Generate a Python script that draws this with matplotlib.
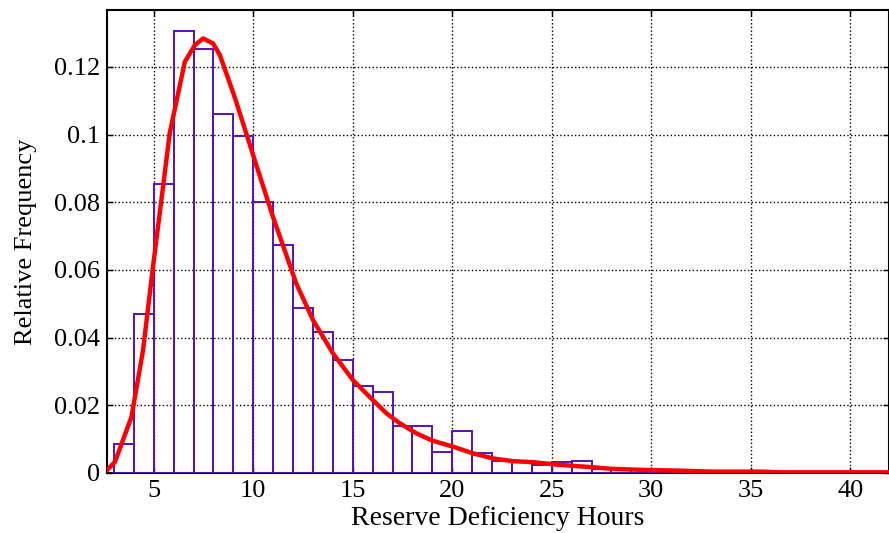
import matplotlib
matplotlib.use("Agg")
import matplotlib.pyplot as plt
import numpy as np

# histogram: relative frequency per 1-hour bin, left edges 3..41
bin_left = list(range(3, 42))
rel_freq = [0.0085, 0.047, 0.0855, 0.1306, 0.1253, 0.106, 0.0996, 0.080,
            0.0674, 0.0488, 0.0417, 0.0334, 0.0257, 0.0238, 0.014, 0.014,
            0.0063, 0.0125, 0.006, 0.0036, 0.0035, 0.0023, 0.0032, 0.0036,
            0.0013, 0.001, 0.001, 0.0005, 0.0005, 0.0003, 0.0002, 0.0002,
            0.0002, 0.0001, 0.0001, 0.0001, 0.0001, 0.0001, 0.0001]

# fitted density curve
fit_x = [2.66, 3.05, 3.88, 4.46, 4.96, 5.38, 5.8, 6.56, 7.06, 7.48, 7.98,
         8.32, 9.07, 10.07, 10.99, 12.16, 13.0, 14.0, 15.0, 16.0, 16.7,
         17.36, 18.2, 19.03, 20.03, 21.04, 22.04, 23.05, 24.05, 25.05,
         26.06, 27.06, 28.07, 29.7, 31.38, 33.05, 35.6, 36.4, 42.0]
fit_y = [0.0009, 0.0033, 0.0166, 0.0363, 0.061, 0.0806, 0.1004, 0.1215,
         0.1264, 0.1284, 0.1269, 0.1235, 0.111, 0.0925, 0.0757, 0.056,
         0.0452, 0.0354, 0.0275, 0.0216, 0.0176, 0.0147, 0.0117, 0.0095,
         0.0078, 0.0058, 0.0043, 0.0035, 0.0032, 0.0026, 0.0021, 0.0017,
         0.0012, 0.0009, 0.0007, 0.0004, 0.0004, 0.0002, 0.0002]

plt.rcParams["font.family"] = ["Liberation Serif", "DejaVu Serif"]

fig = plt.figure(figsize=(8.89, 5.33), dpi=100)
ax = fig.add_axes([0.1204, 0.1126, 0.8796, 0.8686])

ax.bar(bin_left, rel_freq, width=1.0, align="edge", fill=False,
       edgecolor="#5a10b8", linewidth=1.4, zorder=3)
ax.plot(fit_x, fit_y, color="#ff0000", linewidth=3.2, zorder=4)

ax.set_xlim(2.65, 41.95)
ax.set_ylim(0, 0.1368)
ax.set_xticks([5, 10, 15, 20, 25, 30, 35, 40])
ax.set_yticks([0, 0.02, 0.04, 0.06, 0.08, 0.1, 0.12])
ax.set_yticklabels(["0", "0.02", "0.04", "0.06", "0.08", "0.1", "0.12"])

ax.grid(True, color="black", linestyle=":", linewidth=1.0, zorder=0)
ax.set_axisbelow(True)
ax.tick_params(direction="in", labelsize=19, length=4, width=1,
               top=True, right=True, pad=5)
for s in ax.spines.values():
    s.set_linewidth(1.5)

ax.set_xlabel("Reserve Deficiency Hours", fontsize=20, labelpad=3)
ax.set_ylabel("Relative Frequency", fontsize=19, labelpad=12)

fig.savefig("out.png", dpi=100)
